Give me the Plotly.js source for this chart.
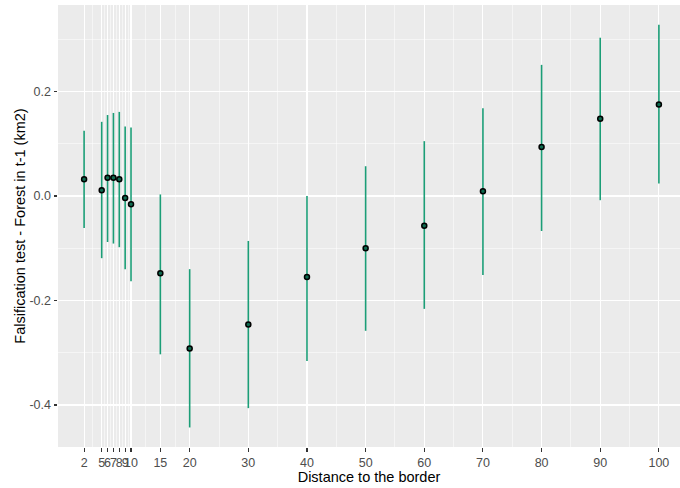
<!DOCTYPE html>
<html><head><meta charset="utf-8">
<script src="https://cdn.plot.ly/plotly-3.0.1.min.js"></script>
<style>html,body{margin:0;padding:0;background:#fff}</style>
</head><body><div id="chart" style="width:680px;height:488px"></div>
<script>
const distance = [2, 5, 6, 7, 8, 9, 10, 15, 20, 30, 40, 50, 60, 70, 80, 90, 100];
const estimate = [0.032, 0.011, 0.035, 0.035, 0.032, -0.004, -0.016, -0.148, -0.292, -0.246, -0.155, -0.100, -0.057, 0.009, 0.094, 0.148, 0.175];
const ciUpper  = [0.125, 0.142, 0.155, 0.159, 0.161, 0.133, 0.131, 0.003, -0.140, -0.086, 0.000, 0.057, 0.105, 0.168, 0.251, 0.303, 0.328];
const ciLower  = [-0.061, -0.119, -0.088, -0.091, -0.098, -0.140, -0.163, -0.303, -0.443, -0.406, -0.316, -0.258, -0.216, -0.151, -0.067, -0.008, 0.024];
const yTicks = [-0.4, -0.2, 0.0, 0.2];
const yTickLabels = ["-0.4", "-0.2", "0.0", "0.2"];
const yMinor = [-0.3, -0.1, 0.1, 0.3];

const green = '#1b9e77';
const plus = estimate.map((v, i) => ciUpper[i] - v);
const minus = estimate.map((v, i) => v - ciLower[i]);

// minor x grid at midpoints between breaks
const xMinor = [];
for (let i = 0; i < distance.length - 1; i++) xMinor.push((distance[i] + distance[i + 1]) / 2);

const traces = [{
  x: distance, y: estimate, type: 'scatter', mode: 'markers',
  marker: {size: 5, color: '#0f6b50', line: {color: '#000', width: 1.5}},
  error_y: {type: 'data', symmetric: false, array: plus, arrayminus: minus,
            color: green, thickness: 1.6, width: 0},
  hoverinfo: 'x+y', showlegend: false
}];

const layout = {
  width: 680, height: 488,
  margin: {l: 58, r: 0, t: 5, b: 41},
  paper_bgcolor: '#ffffff', plot_bgcolor: '#ebebeb',
  font: {family: 'Liberation Sans, Arial, sans-serif', color: '#4d4d4d'},
  showlegend: false,
  xaxis: {
    range: [-2.45, 103.6], tickmode: 'array', tickvals: distance,
    ticktext: distance.map(String), tickangle: 0,
    showgrid: true, gridcolor: '#ffffff', gridwidth: 1.1,
    minor: {tickmode: 'array', tickvals: xMinor, showgrid: true, gridcolor: '#ffffff', gridwidth: 0.5, ticks: ''},
    zeroline: false, showline: false,
    ticks: 'outside', ticklen: 3.5, tickwidth: 1.1, tickcolor: '#333333',
    tickfont: {size: 12.5, color: '#4d4d4d'},
    title: {text: 'Distance to the border', font: {size: 14.5, color: '#000'}, standoff: 3}
  },
  yaxis: {
    range: [-0.4804, 0.3656], tickmode: 'array', tickvals: yTicks, ticktext: yTickLabels,
    showgrid: true, gridcolor: '#ffffff', gridwidth: 1.1,
    minor: {tickmode: 'array', tickvals: yMinor, showgrid: true, gridcolor: '#ffffff', gridwidth: 0.5, ticks: ''},
    zeroline: false, showline: false,
    ticks: 'outside', ticklen: 3.5, tickwidth: 1.1, tickcolor: '#333333',
    tickfont: {size: 12.5, color: '#4d4d4d'},
    title: {text: 'Falsification test - Forest in t-1 (km2)', font: {size: 14.5, color: '#000'}, standoff: 0}
  },
  shapes: [{
    type: 'line', xref: 'paper', x0: 0, x1: 1, yref: 'y', y0: 0, y1: 0,
    line: {color: '#d62728', width: 1.3, dash: '6px,4px'}, layer: 'below'
  }]
};

Plotly.newPlot('chart', traces, layout, {displayModeBar: false, staticPlot: true});
</script></body></html>
